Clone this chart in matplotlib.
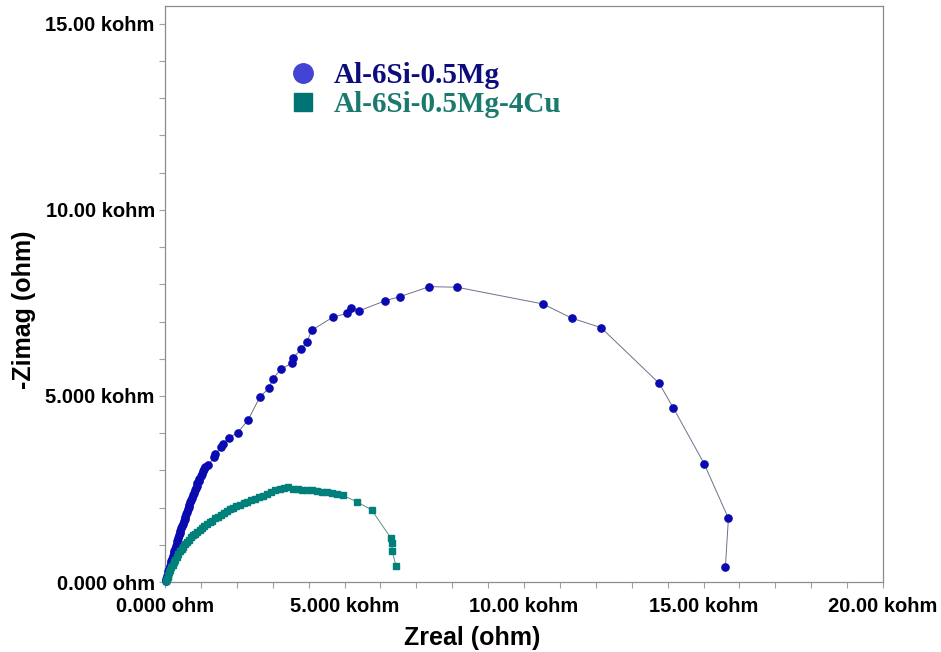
import matplotlib
matplotlib.use('agg')
import matplotlib.pyplot as plt
from matplotlib.lines import Line2D
from matplotlib.ticker import FixedLocator, MultipleLocator

# Al-6Si-0.5Mg, Zreal / -Zimag in ohm (high -> low frequency)
mg_zreal = [20, 35, 55, 75, 95, 115, 135, 155, 175, 195, 215, 240, 260, 280, 300,
            325, 345, 365, 390, 410, 430, 455, 475, 500, 520, 545, 565, 590, 610,
            635, 660, 680, 705, 730, 755, 780, 805, 830, 855, 880, 905, 935, 960,
            990, 1020, 1050, 1080, 1114, 1206, 1365, 1401, 1569, 1624, 1775, 2025,
            2321, 2638, 2889, 3009, 3223, 3530, 3574, 3789, 3956, 4087, 4672, 5079,
            5182, 5396, 6138, 6547, 7363, 8135, 10523, 11339, 12147, 13763, 14161,
            15017, 15694, 15610]
mg_zimag = [20, 80, 150, 220, 290, 360, 430, 500, 570, 630, 700, 770, 840, 900, 960,
            1030, 1100, 1170, 1250, 1310, 1380, 1440, 1500, 1570, 1630, 1690, 1760,
            1820, 1880, 1950, 2010, 2070, 2140, 2200, 2270, 2330, 2400, 2460, 2530,
            2590, 2650, 2720, 2780, 2850, 2910, 2970, 3030, 3099, 3145, 3352, 3441,
            3621, 3718, 3879, 4013, 4363, 4965, 5207, 5465, 5717, 5879, 6029, 6255,
            6459, 6766, 7115, 7223, 7357, 7284, 7561, 7669, 7938, 7922, 7473, 7088,
            6836, 5341, 4677, 3180, 1712, 411]

# Al-6Si-0.5Mg-4Cu
cu_zreal = [30, 50, 70, 95, 120, 150, 180, 215, 250, 290, 330, 370, 415, 460, 510,
            560, 610, 665, 720, 780, 840, 900, 965, 1030, 1100, 1170, 1240, 1310,
            1390, 1470, 1550, 1630, 1720, 1810, 1900, 1990, 2090, 2190, 2290, 2390,
            2500, 2610, 2720, 2830, 2950, 3070, 3190, 3310, 3420, 3560, 3700, 3830,
            3960, 4100, 4230, 4370, 4500, 4650, 4800, 4950, 5341, 5758, 6296, 6324,
            6324, 6435]
cu_zimag = [15, 70, 130, 200, 270, 330, 395, 460, 530, 600, 680, 760, 820, 880, 940,
            1010, 1070, 1140, 1200, 1250, 1300, 1350, 1400, 1450, 1500, 1550, 1600,
            1650, 1710, 1760, 1800, 1850, 1900, 1950, 2000, 2040, 2080, 2120, 2160,
            2200, 2240, 2280, 2320, 2370, 2420, 2460, 2500, 2520, 2540, 2510, 2500,
            2480, 2470, 2470, 2454, 2430, 2410, 2380, 2360, 2330, 2158, 1935, 1175,
            1056, 841, 430]

x_ticks = [0, 5000, 10000, 15000, 20000]
x_labels = ['0.000 ohm', '5.000 kohm', '10.00 kohm', '15.00 kohm', '20.00 kohm']
y_ticks = [0, 5000, 10000, 15000]
y_labels = ['0.000 ohm', '5.000 kohm', '10.00 kohm', '15.00 kohm']

plt.rcParams['font.family'] = ['Liberation Sans', 'DejaVu Sans']

fig = plt.figure(figsize=(9.41, 6.52), dpi=100)
ax = fig.add_axes([165 / 941, 1 - 582 / 652, 718 / 941, 576 / 652])

ax.plot(mg_zreal, mg_zimag, color='#707088', lw=0.7, marker='o', ms=5.2,
        mfc='#0a0ab0', mec='#0a0ab0', clip_on=False, zorder=3)
ax.plot(cu_zreal, cu_zimag, color='#5f8f8a', lw=0.7, marker='s', ms=4.6,
        mfc='#00807a', mec='#00807a', clip_on=False, zorder=3)

ax.set_xlim(0, 20000)
ax.set_ylim(0, 15480)
ax.xaxis.set_major_locator(FixedLocator(x_ticks))
ax.set_xticklabels(x_labels)
ax.yaxis.set_major_locator(FixedLocator(y_ticks))
ax.set_yticklabels(y_labels)
ax.xaxis.set_minor_locator(MultipleLocator(1000))
ax.yaxis.set_minor_locator(MultipleLocator(1000))

for sp in ax.spines.values():
    sp.set_color('#8c8c8c')
    sp.set_linewidth(0.9)
ax.tick_params(which='both', direction='out', length=4.3, width=0.8, color='#a0a0a0')
ax.tick_params(axis='x', pad=6.5, labelsize=14.5)
ax.tick_params(axis='y', pad=3, labelsize=14.5)
for t in ax.get_xticklabels() + ax.get_yticklabels():
    t.set_fontweight('bold')

ax.set_xlabel('Zreal (ohm)', fontsize=18, fontweight='bold')
ax.set_ylabel('-Zimag (ohm)', fontsize=18, fontweight='bold')
ax.xaxis.set_label_coords((472 - 165) / 718, -(626 - 582) / 576)
ax.yaxis.set_label_coords(-(164 - 35) / 718, (582 - 310) / 576)

handles = [
    Line2D([], [], ls='none', marker='o', ms=14, mfc='#4444d4', mec='#4444d4'),
    Line2D([], [], ls='none', marker='s', ms=12.5, mfc='#007474', mec='#007474'),
]
leg = ax.legend(handles, ['Al-6Si-0.5Mg', 'Al-6Si-0.5Mg-4Cu'], loc='center left',
                bbox_to_anchor=(288 / 941, 1 - 90 / 652), bbox_transform=fig.transFigure,
                frameon=False, borderpad=0, borderaxespad=0, handlelength=1.0,
                handletextpad=0.56, labelspacing=0.06,
                prop={'family': 'Liberation Serif', 'weight': 'bold', 'size': 21})
for txt, c in zip(leg.get_texts(), ['#0c0c7c', '#1a7a6e']):
    txt.set_color(c)

fig.savefig('out.png', dpi=100)
